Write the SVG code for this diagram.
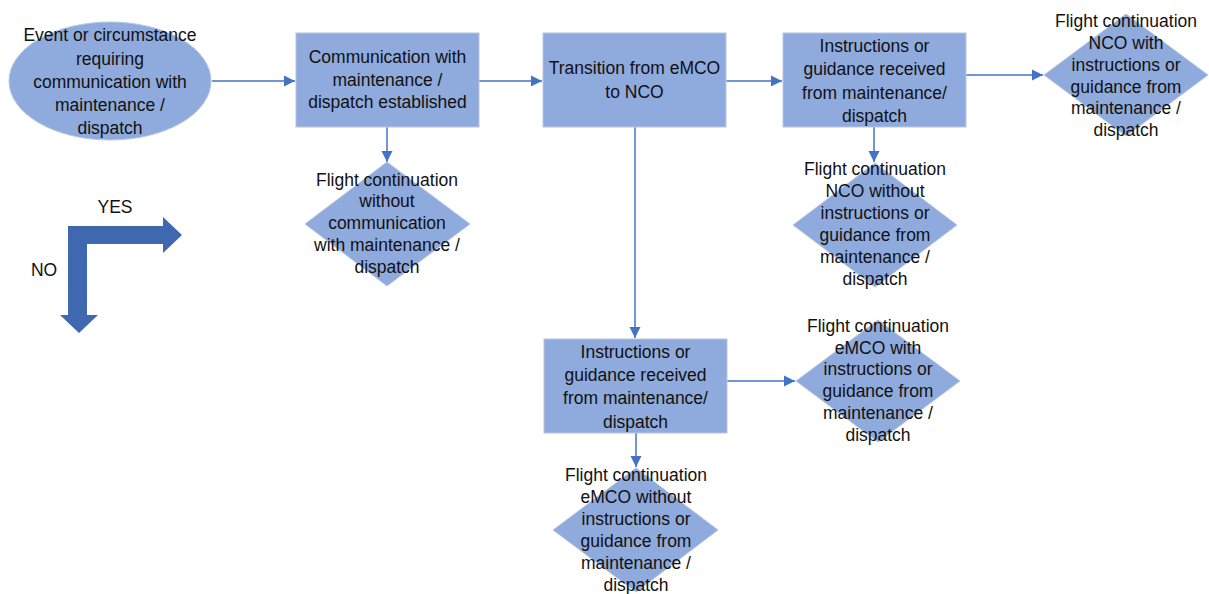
<svg xmlns="http://www.w3.org/2000/svg" width="1209" height="594" viewBox="0 0 1209 594">
  <style>
    .shape { fill: #8faadc; stroke: #b9c6de; stroke-width: 1; }
    .conn { stroke: #4472c4; stroke-width: 1.5; fill: none; marker-end: url(#ah); }
    text { font-family: "Liberation Sans", Arial, sans-serif; font-size: 17.5px; fill: #111111; text-anchor: middle; }
    .legend { fill: #4068b0; }
  </style>
  <defs>
    <marker id="ah" viewBox="0 0 10 10" refX="10" refY="5" markerWidth="7.5" markerHeight="7.5" markerUnits="strokeWidth" orient="auto">
      <path d="M0,0 L10,5 L0,10 Z" fill="#4472c4"/>
    </marker>
  </defs>
  <rect width="1209" height="594" fill="#ffffff"/>

  <!-- connectors -->
  <g id="connectors">
    <line class="conn" x1="212" y1="81" x2="295" y2="81"/>
    <line class="conn" x1="479" y1="81" x2="542" y2="81"/>
    <line class="conn" x1="726" y1="81" x2="782" y2="81"/>
    <line class="conn" x1="966" y1="75" x2="1043" y2="75"/>
    <line class="conn" x1="387" y1="127" x2="387" y2="162"/>
    <line class="conn" x1="874" y1="127" x2="874" y2="162"/>
    <line class="conn" x1="635" y1="127" x2="635" y2="338"/>
    <line class="conn" x1="727" y1="381" x2="795" y2="381"/>
    <line class="conn" x1="636" y1="433" x2="636" y2="467"/>
  </g>

  <!-- start event -->
  <g id="start">
    <ellipse class="shape" cx="110" cy="81" rx="101" ry="59"/>
    <text x="110" y="41">Event or circumstance</text>
    <text x="110" y="65">requiring</text>
    <text x="110" y="88">communication with</text>
    <text x="110" y="111">maintenance /</text>
    <text x="110" y="134">dispatch</text>
  </g>

  <g id="comm-established">
    <rect class="shape" x="296" y="33" width="183" height="94"/>
    <text x="387.5" y="63">Communication with</text>
    <text x="387.5" y="86">maintenance /</text>
    <text x="387.5" y="108">dispatch established</text>
  </g>

  <g id="transition">
    <rect class="shape" x="543" y="33" width="183" height="94"/>
    <text x="634.5" y="74">Transition from eMCO</text>
    <text x="634.5" y="98">to NCO</text>
  </g>

  <g id="guidance-nco">
    <rect class="shape" x="783" y="33" width="183" height="94"/>
    <text x="874.5" y="52">Instructions or</text>
    <text x="874.5" y="75">guidance received</text>
    <text x="874.5" y="99">from maintenance/</text>
    <text x="874.5" y="122">dispatch</text>
  </g>

  <g id="nco-with">
    <polygon class="shape" points="1126,14 1208,75 1126,136 1044,75"/>
    <text x="1126" y="27">Flight continuation</text>
    <text x="1126" y="49">NCO with</text>
    <text x="1126" y="71">instructions or</text>
    <text x="1126" y="93">guidance from</text>
    <text x="1126" y="114">maintenance /</text>
    <text x="1126" y="136">dispatch</text>
  </g>

  <g id="no-comm">
    <polygon class="shape" points="387,162 470,224 387,286 305,224"/>
    <text x="387" y="186">Flight continuation</text>
    <text x="387" y="207">without</text>
    <text x="387" y="229">communication</text>
    <text x="387" y="251">with maintenance /</text>
    <text x="387" y="273">dispatch</text>
  </g>

  <g id="nco-without">
    <polygon class="shape" points="875,163 957,225 875,287 793,225"/>
    <text x="875" y="175">Flight continuation</text>
    <text x="875" y="197">NCO without</text>
    <text x="875" y="219">instructions or</text>
    <text x="875" y="241">guidance from</text>
    <text x="875" y="263">maintenance /</text>
    <text x="875" y="285">dispatch</text>
  </g>

  <g id="guidance-emco">
    <rect class="shape" x="544" y="339" width="183" height="94"/>
    <text x="635.5" y="358">Instructions or</text>
    <text x="635.5" y="381">guidance received</text>
    <text x="635.5" y="404">from maintenance/</text>
    <text x="635.5" y="428">dispatch</text>
  </g>

  <g id="emco-with">
    <polygon class="shape" points="878,320 960,381 878,442 796,381"/>
    <text x="878" y="332">Flight continuation</text>
    <text x="878" y="354">eMCO with</text>
    <text x="878" y="375">instructions or</text>
    <text x="878" y="397">guidance from</text>
    <text x="878" y="419">maintenance /</text>
    <text x="878" y="441">dispatch</text>
  </g>

  <g id="emco-without">
    <polygon class="shape" points="636,468 718,530 636,592 553,530"/>
    <text x="636" y="481">Flight continuation</text>
    <text x="636" y="503">eMCO without</text>
    <text x="636" y="525">instructions or</text>
    <text x="636" y="547">guidance from</text>
    <text x="636" y="569">maintenance /</text>
    <text x="636" y="591">dispatch</text>
  </g>

  <!-- YES / NO key -->
  <g id="legend">
    <polygon class="legend" points="68,226 163,226 163,217 182,235 163,253 163,244 68,244"/>
    <polygon class="legend" points="68,244 87,244 87,315 98,315 79,333 60,315 68,315"/>
    <text x="115" y="213">YES</text>
    <text x="44" y="276">NO</text>
  </g>
</svg>
